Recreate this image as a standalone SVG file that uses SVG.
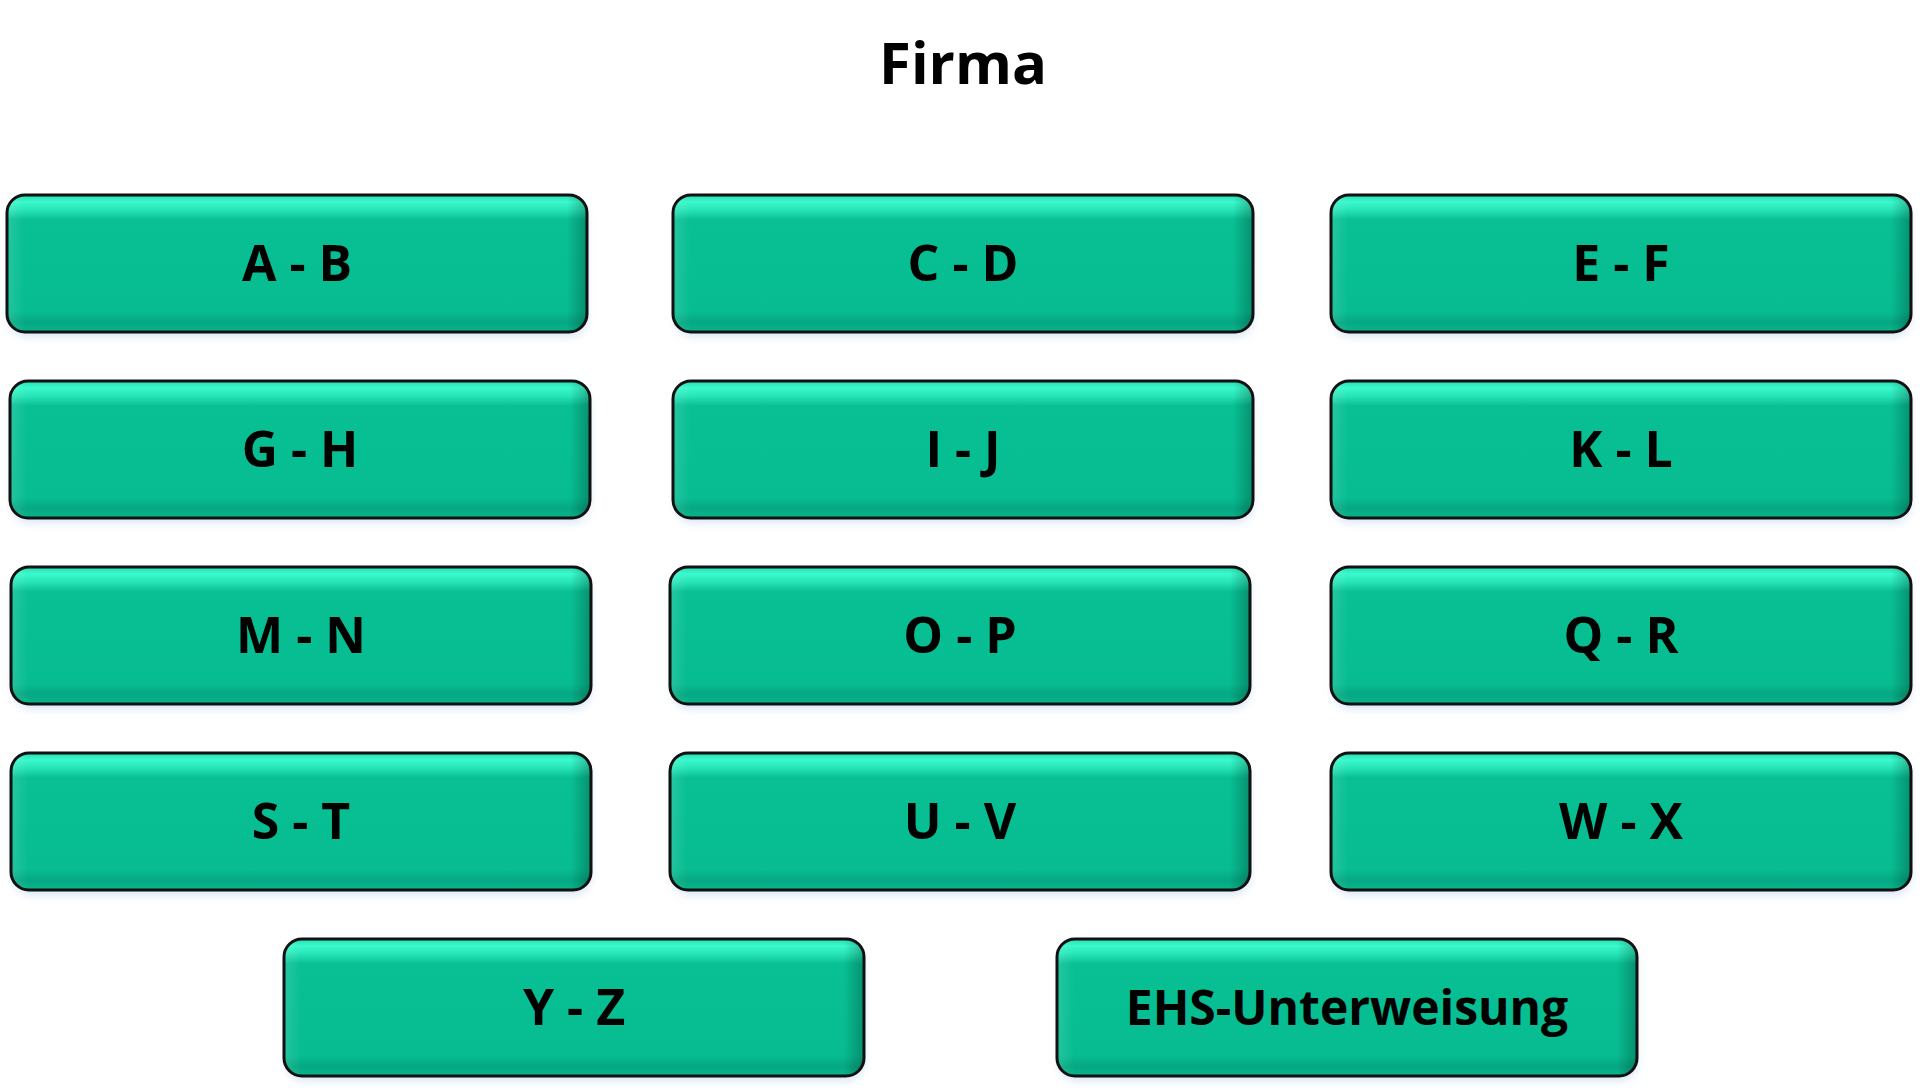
<svg xmlns="http://www.w3.org/2000/svg" width="1920" height="1090" viewBox="0 0 1920 1090">
<defs>
<linearGradient id="gv" x1="0" y1="0" x2="0" y2="1">
<stop offset="0" stop-color="#27DDB2"/>
<stop offset="0.05" stop-color="#3AF9CC"/>
<stop offset="0.11" stop-color="#27E4B6"/>
<stop offset="0.18" stop-color="#08C094"/>
<stop offset="0.85" stop-color="#07BC91"/>
<stop offset="0.93" stop-color="#05A883"/>
<stop offset="1" stop-color="#08B58B"/>
</linearGradient>
<linearGradient id="gh" x1="0" y1="0" x2="1" y2="0">
<stop offset="0" stop-color="#ffffff" stop-opacity="0.12"/>
<stop offset="0.03" stop-color="#ffffff" stop-opacity="0"/>
<stop offset="0.965" stop-color="#000000" stop-opacity="0"/>
<stop offset="1" stop-color="#000000" stop-opacity="0.25"/>
</linearGradient>
<filter id="sh" x="-5%" y="-20%" width="110%" height="140%">
<feGaussianBlur stdDeviation="4"/>
</filter>
<symbol id="btn" viewBox="0 0 580 137" overflow="visible">
<rect x="2" y="6" width="578" height="136" rx="18" fill="#c9dcf2" opacity="0.7" filter="url(#sh)"/>
<rect x="0" y="0" width="580" height="137" rx="18" fill="url(#gv)"/>
<rect x="0" y="0" width="580" height="137" rx="18" fill="url(#gh)" stroke="#111" stroke-width="3"/>
</symbol>
</defs>
<style>
.lbl{font-family:"Open Sans","Liberation Sans",sans-serif;font-weight:bold;font-size:50px;fill:#000;text-anchor:middle}
.title{font-family:"Open Sans","Liberation Sans",sans-serif;font-weight:bold;font-size:58px;fill:#000;text-anchor:middle}
</style>
<rect width="1920" height="1090" fill="#fff"/>
<text class="title" x="963" y="84">Firma</text>
<g id="n-ab"><use href="#btn" x="7" y="195" width="580" height="137"/><text class="lbl" x="297" y="281">A - B</text></g>
<g id="n-cd"><use href="#btn" x="673" y="195" width="580" height="137"/><text class="lbl" x="963" y="281">C - D</text></g>
<g id="n-ef"><use href="#btn" x="1331" y="195" width="580" height="137"/><text class="lbl" x="1621" y="281">E - F</text></g>
<g id="n-gh"><use href="#btn" x="10" y="381" width="580" height="137"/><text class="lbl" x="300" y="467">G - H</text></g>
<g id="n-ij"><use href="#btn" x="673" y="381" width="580" height="137"/><text class="lbl" x="963" y="467">I - J</text></g>
<g id="n-kl"><use href="#btn" x="1331" y="381" width="580" height="137"/><text class="lbl" x="1621" y="467">K - L</text></g>
<g id="n-mn"><use href="#btn" x="11" y="567" width="580" height="137"/><text class="lbl" x="301" y="653">M - N</text></g>
<g id="n-op"><use href="#btn" x="670" y="567" width="580" height="137"/><text class="lbl" x="960" y="653">O - P</text></g>
<g id="n-qr"><use href="#btn" x="1331" y="567" width="580" height="137"/><text class="lbl" x="1621" y="653">Q - R</text></g>
<g id="n-st"><use href="#btn" x="11" y="753" width="580" height="137"/><text class="lbl" x="301" y="839">S - T</text></g>
<g id="n-uv"><use href="#btn" x="670" y="753" width="580" height="137"/><text class="lbl" x="960" y="839">U - V</text></g>
<g id="n-wx"><use href="#btn" x="1331" y="753" width="580" height="137"/><text class="lbl" x="1621" y="839">W - X</text></g>
<g id="n-yz"><use href="#btn" x="284" y="939" width="580" height="137"/><text class="lbl" x="574" y="1025">Y - Z</text></g>
<g id="n-ehs"><use href="#btn" x="1057" y="939" width="580" height="137"/><text class="lbl" x="1347" y="1025" style="font-size:48px">EHS-Unterweisung</text></g>
<g id="connectors"/>
</svg>
